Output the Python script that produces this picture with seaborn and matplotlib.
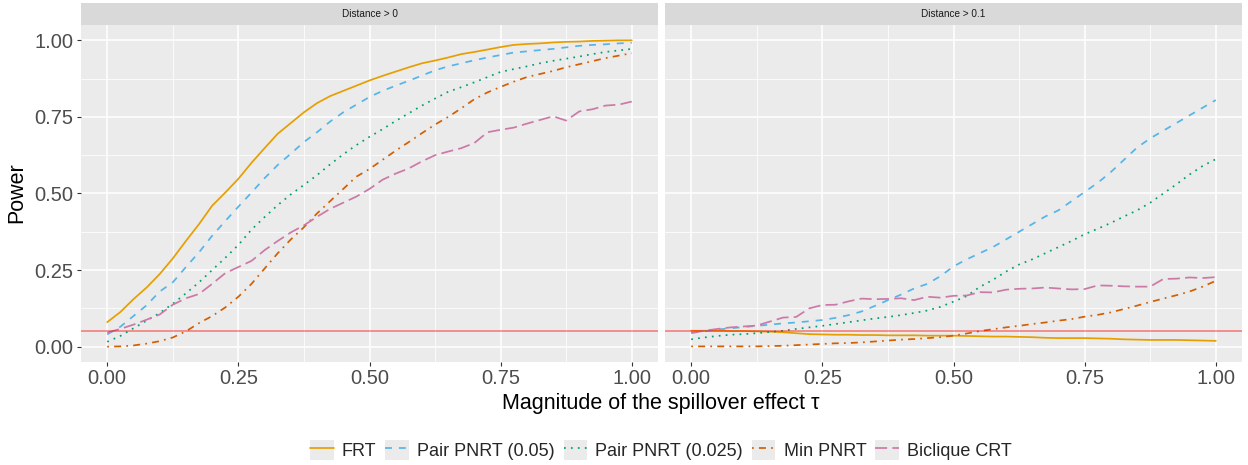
import numpy as np
import pandas as pd
import matplotlib
matplotlib.use("Agg")
import matplotlib.pyplot as plt
import seaborn as sns
from matplotlib.legend_handler import HandlerLine2D
from matplotlib.patches import Rectangle
from matplotlib.lines import Line2D
from matplotlib.ticker import MultipleLocator

# ---------------- data ----------------
TAU = [round(i * 0.025, 3) for i in range(41)]

METHODS = ["FRT", "Pair PNRT (0.05)", "Pair PNRT (0.025)", "Min PNRT", "Biclique CRT"]
PANELS = ["Distance > 0", "Distance > 0.1"]

# Panel "Distance > 0"
frt_d0 = [0.080, 0.113, 0.155, 0.193, 0.237, 0.288, 0.345, 0.400, 0.460, 0.503,
          0.548, 0.600, 0.648, 0.695, 0.730, 0.765, 0.795, 0.818, 0.835, 0.852,
          0.869, 0.884, 0.898, 0.912, 0.925, 0.934, 0.944, 0.955, 0.962, 0.970,
          0.978, 0.985, 0.988, 0.990, 0.993, 0.995, 0.996, 0.998, 0.999, 1.000, 1.000]
pair05_d0 = [0.040, 0.065, 0.100, 0.135, 0.180, 0.210, 0.260, 0.308, 0.362, 0.410,
             0.457, 0.503, 0.550, 0.593, 0.630, 0.668, 0.700, 0.735, 0.765, 0.790,
             0.815, 0.835, 0.852, 0.868, 0.885, 0.902, 0.915, 0.925, 0.935, 0.944,
             0.952, 0.960, 0.964, 0.968, 0.972, 0.977, 0.982, 0.985, 0.987, 0.990, 0.992]
pair025_d0 = [0.016, 0.035, 0.060, 0.085, 0.110, 0.140, 0.174, 0.210, 0.250, 0.290,
              0.332, 0.382, 0.423, 0.462, 0.497, 0.528, 0.560, 0.595, 0.628, 0.658,
              0.685, 0.710, 0.737, 0.762, 0.787, 0.810, 0.832, 0.847, 0.863, 0.880,
              0.897, 0.906, 0.915, 0.925, 0.933, 0.940, 0.947, 0.955, 0.962, 0.967, 0.972]
minp_d0 = [0.000, 0.001, 0.004, 0.010, 0.018, 0.030, 0.050, 0.077, 0.100, 0.128,
           0.163, 0.205, 0.255, 0.305, 0.350, 0.390, 0.435, 0.475, 0.515, 0.555,
           0.580, 0.610, 0.640, 0.668, 0.697, 0.725, 0.750, 0.778, 0.808, 0.830,
           0.848, 0.865, 0.880, 0.890, 0.900, 0.912, 0.922, 0.932, 0.942, 0.950, 0.958]
bicl_d0 = [0.046, 0.058, 0.072, 0.088, 0.105, 0.137, 0.158, 0.172, 0.205, 0.240,
           0.260, 0.280, 0.315, 0.345, 0.373, 0.396, 0.424, 0.450, 0.470, 0.490,
           0.515, 0.545, 0.565, 0.582, 0.605, 0.625, 0.637, 0.648, 0.665, 0.700,
           0.708, 0.715, 0.728, 0.740, 0.752, 0.738, 0.768, 0.775, 0.787, 0.790, 0.800]

# Panel "Distance > 0.1"
frt_d1 = [0.052, 0.052, 0.052, 0.051, 0.051, 0.050, 0.049, 0.047, 0.044, 0.041,
          0.040, 0.039, 0.039, 0.038, 0.038, 0.037, 0.037, 0.037, 0.036, 0.036,
          0.036, 0.035, 0.034, 0.033, 0.033, 0.032, 0.031, 0.029, 0.028, 0.028,
          0.028, 0.027, 0.026, 0.024, 0.023, 0.022, 0.022, 0.022, 0.021, 0.020, 0.019]
pair05_d1 = [0.045, 0.050, 0.056, 0.060, 0.064, 0.068, 0.072, 0.076, 0.079, 0.083,
             0.087, 0.094, 0.103, 0.115, 0.133, 0.152, 0.170, 0.190, 0.205, 0.230,
             0.262, 0.285, 0.305, 0.325, 0.350, 0.375, 0.400, 0.425, 0.445, 0.475,
             0.505, 0.535, 0.570, 0.610, 0.650, 0.680, 0.705, 0.730, 0.755, 0.780, 0.805]
pair025_d1 = [0.024, 0.030, 0.035, 0.039, 0.041, 0.044, 0.048, 0.052, 0.058, 0.063,
              0.068, 0.074, 0.080, 0.086, 0.092, 0.097, 0.103, 0.110, 0.118, 0.130,
              0.147, 0.165, 0.195, 0.218, 0.245, 0.268, 0.285, 0.305, 0.325, 0.345,
              0.367, 0.385, 0.404, 0.425, 0.445, 0.470, 0.500, 0.530, 0.562, 0.590, 0.612]
minp_d1 = [0.001, 0.001, 0.001, 0.001, 0.001, 0.001, 0.002, 0.003, 0.005, 0.007,
           0.009, 0.011, 0.012, 0.014, 0.017, 0.020, 0.023, 0.025, 0.028, 0.031,
           0.036, 0.043, 0.051, 0.057, 0.063, 0.068, 0.074, 0.079, 0.085, 0.090,
           0.098, 0.104, 0.112, 0.123, 0.134, 0.146, 0.157, 0.168, 0.180, 0.196, 0.215]
bicl_d1 = [0.045, 0.052, 0.058, 0.063, 0.066, 0.069, 0.082, 0.095, 0.097, 0.125,
           0.136, 0.137, 0.148, 0.157, 0.155, 0.156, 0.158, 0.152, 0.163, 0.160,
           0.166, 0.167, 0.178, 0.177, 0.186, 0.189, 0.190, 0.193, 0.190, 0.187,
           0.188, 0.200, 0.199, 0.197, 0.196, 0.196, 0.221, 0.222, 0.226, 0.224, 0.227]

ALPHA_LEVEL = 0.05
X_TICKS = [0.0, 0.25, 0.5, 0.75, 1.0]
X_TICK_LABELS = ["0.00", "0.25", "0.50", "0.75", "1.00"]
Y_TICKS = [0.0, 0.25, 0.5, 0.75, 1.0]
Y_TICK_LABELS = ["0.00", "0.25", "0.50", "0.75", "1.00"]

SERIES = {
    PANELS[0]: [frt_d0, pair05_d0, pair025_d0, minp_d0, bicl_d0],
    PANELS[1]: [frt_d1, pair05_d1, pair025_d1, minp_d1, bicl_d1],
}

rows = []
for panel, lists in SERIES.items():
    for m, vals in zip(METHODS, lists):
        for t, v in zip(TAU, vals):
            rows.append((panel, m, t, v))
df = pd.DataFrame(rows, columns=["panel", "method", "tau", "power"])

# ---------------- style ----------------
COLORS = dict(zip(METHODS, ["#E69F00", "#56B4E9", "#009E73", "#D55E00", "#CC79A7"]))
DASHES = dict(zip(METHODS, ["", (4, 4), (1, 3), (1, 3, 4, 3), (7, 3)]))
LW = 1.25

sns.set_theme(style="darkgrid")
plt.rcParams["font.family"] = ["Liberation Sans", "DejaVu Sans"]

W, H = 1248, 465
fig = plt.figure(figsize=(W / 100, H / 100), dpi=100)


def frac(x0, y0, x1, y1):
    return [x0 / W, 1 - y1 / H, (x1 - x0) / W, (y1 - y0) / H]


panel_px = [(81, 25, 658, 362), (665, 25, 1242, 362)]
strip_px = [(81, 3, 658, 25), (665, 3, 1242, 25)]

for i, panel in enumerate(PANELS):
    ax = fig.add_axes(frac(*panel_px[i]))
    ax.set_facecolor("#EBEBEB")
    sub = df[df["panel"] == panel]
    sns.lineplot(data=sub, x="tau", y="power", hue="method", style="method",
                 hue_order=METHODS, style_order=METHODS, palette=COLORS,
                 dashes=DASHES, lw=LW, legend=False, estimator=None, ax=ax)
    ax.axhline(ALPHA_LEVEL, color="red", alpha=0.5, lw=1.1, zorder=5)
    ax.set_xlim(-0.05, 1.05)
    ax.set_ylim(-0.05, 1.05)
    ax.set_xticks(X_TICKS)
    ax.set_xticklabels(X_TICK_LABELS)
    ax.set_yticks(Y_TICKS)
    ax.set_yticklabels(Y_TICK_LABELS)
    ax.xaxis.set_minor_locator(MultipleLocator(0.125))
    ax.yaxis.set_minor_locator(MultipleLocator(0.125))
    ax.grid(which="major", color="white", lw=1.1)
    ax.grid(which="minor", color="white", lw=0.55)
    ax.set_axisbelow(True)
    for s in ax.spines.values():
        s.set_visible(False)
    ax.tick_params(which="major", length=3.2, width=0.8, color="#333333",
                   labelsize=14.5, labelcolor="#4D4D4D", pad=2.2,
                   bottom=True, left=True)
    ax.tick_params(which="minor", length=0, bottom=False, left=False)
    if i == 1:
        ax.tick_params(axis="y", which="both", left=False, labelleft=False)
    ax.set_xlabel("")
    ax.set_ylabel("")

    sax = fig.add_axes(frac(*strip_px[i]))
    sax.set_facecolor("#D9D9D9")
    sax.set_xticks([])
    sax.set_yticks([])
    for s in sax.spines.values():
        s.set_visible(False)
    sax.text(0.5, 0.5, panel, ha="center", va="center", fontsize=7.2,
             color="#1A1A1A", transform=sax.transAxes)

fig.text(17 / W, 1 - 193 / H, "Power", rotation=90, ha="center", va="center",
         fontsize=15.5, color="black")
fig.text(661 / W, 1 - 404 / H, "Magnitude of the spillover effect \u03c4",
         ha="center", va="center", fontsize=15.5, color="black")


class BoxHandler(HandlerLine2D):
    def create_artists(self, legend, orig_handle, xdescent, ydescent, width,
                       height, fontsize, trans):
        arts = super().create_artists(legend, orig_handle, xdescent, ydescent,
                                      width, height, fontsize, trans)
        r = Rectangle((-xdescent, -ydescent), width, height,
                      facecolor="#EBEBEB", edgecolor="none", transform=trans)
        return [r] + list(arts)


handles = []
for m in METHODS:
    d = DASHES[m]
    ls = "-" if d == "" else (0, d)
    handles.append(Line2D([], [], color=COLORS[m], lw=LW, linestyle=ls))

fig.legend(handles, METHODS, loc="center", bbox_to_anchor=(661 / W, 1 - 450 / H),
           ncol=5, frameon=False, fontsize=13, handlelength=1.3,
           handleheight=1.3, handletextpad=0.45, columnspacing=0.5,
           handler_map={Line2D: BoxHandler()})

fig.savefig("out.png", dpi=100)
